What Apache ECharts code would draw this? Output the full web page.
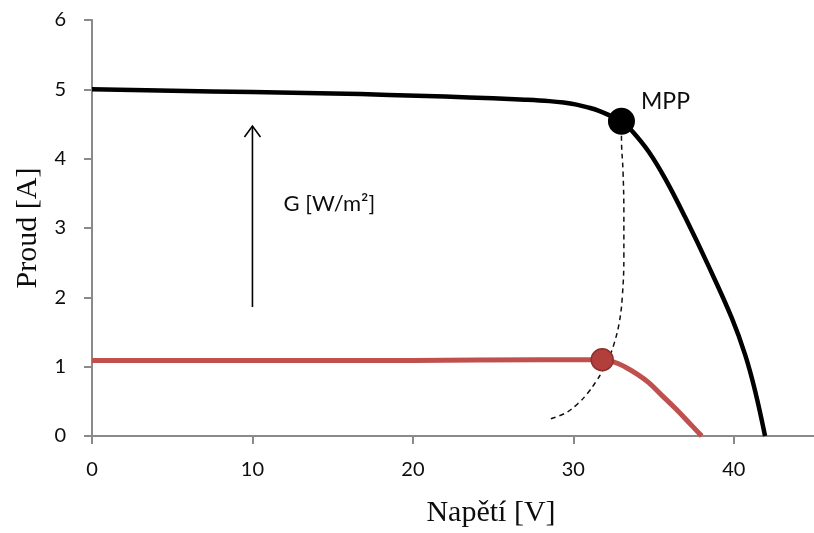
<!DOCTYPE html>
<html>
<head>
<meta charset="utf-8">
<title>I-V charakteristika</title>
<script src="https://cdn.jsdelivr.net/npm/echarts@6/dist/echarts.min.js"></script>
<style>
  html, body { margin: 0; padding: 0; background: #fff; }
  #chart { width: 814px; height: 533px; }
</style>
</head>
<body>
<div id="chart"></div>
<script>
// I-V curve at full irradiance (voltage V, current A)
const curveHigh = [
  [0, 5.00], [5, 4.98], [10, 4.96], [15, 4.94], [18.5, 4.92], [22, 4.895],
  [25, 4.87], [27, 4.85], [28.5, 4.83], [29.4, 4.81], [30.2, 4.78], [30.9, 4.74],
  [31.6, 4.69], [32.3, 4.62], [33, 4.54], [33.66, 4.40], [34.7, 4.10], [35.74, 3.705],
  [36.98, 3.15], [38.43, 2.45], [39.88, 1.70], [40.71, 1.17], [41.33, 0.65], [41.95, 0]
];

// I-V curve at low irradiance
const curveLow = [
  [0, 1.09], [10, 1.09], [20, 1.09], [28, 1.10], [30, 1.10], [31.8, 1.10],
  [32.5, 1.07], [33.2, 1.00], [34, 0.89], [34.7, 0.77], [35.5, 0.59],
  [36.4, 0.39], [37.2, 0.195], [38, 0]
];

// locus of maximum power points
const mppLocus = [
  [28.6, 0.25], [29.5, 0.33], [30.3, 0.47], [30.9, 0.62], [31.4, 0.78],
  [31.8, 0.93], [32.2, 1.12], [32.5, 1.30], [32.85, 1.62], [33.05, 2.0],
  [33.15, 2.6], [33.15, 3.2], [33.1, 3.8], [33.0, 4.3], [33.0, 4.54]
];

// maximum power points of the two curves
const mppHigh = [33.0, 4.54];
const mppLow = [31.8, 1.10];

// irradiance arrow: start and end (V, A)
const irradianceArrow = [10, 1.86, 10, 4.47];
const irradianceLabel = 'G [W/m²]';
const mppLabel = 'MPP';

// axes
const xTitle = 'Napětí [V]';
const yTitle = 'Proud [A]';
const xMin = 0, xMax = 45, xStep = 10;
const yMin = 0, yMax = 6, yStep = 1;

const sansFont = 'Lato, "Open Sans", sans-serif';
const serifFont = '"Liberation Serif", "DejaVu Serif", serif';
const axisGray = '#8a8a8a';
const textColor = '#0d0d0d';

const chart = echarts.init(document.getElementById('chart'), null, { renderer: 'canvas' });

chart.setOption({
  animation: false,
  backgroundColor: '#fff',
  grid: { left: 92, top: 20, bottom: 93, width: 724, containLabel: false },
  xAxis: {
    type: 'value', min: xMin, max: xMax, interval: xStep,
    name: xTitle, nameLocation: 'middle', nameGap: 62,
    nameTextStyle: { fontFamily: serifFont, fontSize: 30, color: textColor, padding: [0, 0, 0, 76] },
    axisLine: { lineStyle: { color: axisGray, width: 2 } },
    axisTick: { length: 8, lineStyle: { color: axisGray, width: 2 } },
    axisLabel: { showMaxLabel: false, margin: 24, fontFamily: sansFont, fontSize: 20, color: textColor },
    splitLine: { show: false }
  },
  yAxis: {
    type: 'value', min: yMin, max: yMax, interval: yStep,
    name: yTitle, nameLocation: 'middle', nameGap: 47,
    nameTextStyle: { fontFamily: serifFont, fontSize: 30, color: textColor },
    axisLine: { show: true, lineStyle: { color: axisGray, width: 2 } },
    axisTick: { show: true, length: 8, lineStyle: { color: axisGray, width: 2 } },
    axisLabel: { margin: 26, fontFamily: sansFont, fontSize: 20, color: textColor },
    splitLine: { show: false }
  },
  series: [
    {
      name: 'G nízké', type: 'line', data: curveLow, smooth: 0.4,
      showSymbol: false, lineStyle: { color: '#c0504d', width: 5 }, z: 2
    },
    {
      name: 'G vysoké', type: 'line', data: curveHigh, smooth: 0.4,
      showSymbol: false, lineStyle: { color: '#000', width: 4.5 }, z: 3
    },
    {
      name: 'MPP křivka', type: 'line', data: mppLocus, smooth: 0.4,
      showSymbol: false, lineStyle: { color: '#111', width: 1.5, type: [5, 4] }, z: 4
    },
    {
      name: 'MPP nízké', type: 'scatter', data: [mppLow],
      symbolSize: 22,
      itemStyle: { color: '#b23f3c', borderColor: '#8f2f2d', borderWidth: 1.5, opacity: 1 }, z: 5
    },
    {
      name: 'MPP vysoké', type: 'scatter', data: [mppHigh],
      symbolSize: 27, itemStyle: { color: '#000', opacity: 1 }, z: 5,
      label: {
        show: true, formatter: mppLabel, position: 'right', distance: 6, offset: [0, -20],
        fontFamily: sansFont, fontSize: 23, color: textColor
      }
    },
    {
      name: 'G', type: 'custom', data: [irradianceArrow], z: 6,
      renderItem: function (params, api) {
        const p0 = api.coord([api.value(0), api.value(1)]);
        const p1 = api.coord([api.value(2), api.value(3)]);
        const head = 11, spread = 8;
        return {
          type: 'group',
          children: [
            { type: 'line', shape: { x1: p0[0], y1: p0[1], x2: p1[0], y2: p1[1] },
              style: { stroke: '#000', lineWidth: 1.6 } },
            { type: 'polyline',
              shape: { points: [[p1[0] - spread, p1[1] + head], [p1[0], p1[1]], [p1[0] + spread, p1[1] + head]] },
              style: { stroke: '#000', lineWidth: 1.6, fill: null } },
            { type: 'text',
              style: { x: p1[0] + 31, y: (p0[1] + p1[1]) / 2 - 13, text: irradianceLabel,
                fontFamily: sansFont, fontSize: 22, fill: textColor,
                verticalAlign: 'middle', align: 'left' } }
          ]
        };
      }
    }
  ]
});
</script>
</body>
</html>
